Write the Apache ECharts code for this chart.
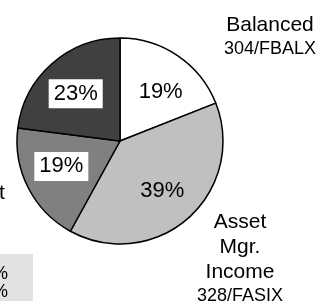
<!DOCTYPE html>
<html>
<head>
<meta charset="utf-8">
<script src="https://cdn.jsdelivr.net/npm/echarts@6/dist/echarts.min.js"></script>
<style>
  html, body { margin: 0; padding: 0; background: #fff; }
  #chart { width: 318px; height: 301px; }
</style>
</head>
<body>
<div id="chart"></div>
<script>
// datos del grafico (sentido horario desde arriba)
const fondos = ["Balanced", "Asset Mgr. Income", "Government Income", "Asset Mgr."];
const codigos = ["304/FBALX", "328/FASIX", "054/FGOVX", "314/FASMX"];
const porcentajes = [19, 39, 19, 23];
const colores = ["#ffffff", "#c0c0c0", "#808080", "#404040"];
// textos de la caja gris recortada a la izquierda
const cajaTextos = ["3.1%", "2.4%"];

const fuente = "Liberation Sans, Arial, sans-serif";

var myChart = echarts.init(document.getElementById("chart"));

// posiciones de las etiquetas de nombre (fuera del pastel)
const posNombres = {
  0: { x: 270, y: 37 },
  1: { x: 240, y: 258.5 },
  2: { x: -53, y: 217 },
};

// pequeños ajustes de los porcentajes dentro del pastel
const ajustes = [[3, 6], [-2, 0], [1, -5], [0, 3]];

const datosPastel = porcentajes.map((v, i) => ({
  value: v,
  name: fondos[i],
  itemStyle: { color: colores[i] },
  label: {
    show: i !== 3,
    formatter: () => {
      const lineas = fondos[i] === "Asset Mgr. Income"
        ? ["Asset", "Mgr.", "Income"]
        : fondos[i] === "Government Income"
          ? ["Government", "Income"]
          : [fondos[i]];
      return lineas.map((l) => "{n|" + l + "}").join("\n") + "\n{c|" + codigos[i] + "}";
    },
  },
}));

const datosEtiquetas = porcentajes.map((v, i) => ({
  value: v,
  name: fondos[i],
  label: {
    backgroundColor: i >= 2 ? "#ffffff" : "transparent",
    padding: i >= 2 ? [4, 5, 3, 5] : 0,
    offset: ajustes[i],
  },
}));

var option = {
  animation: false,
  graphic: [
    {
      type: "rect",
      x: 0,
      y: 254,
      shape: { width: 33, height: 60 },
      style: { fill: "#e2e2e2" },
      silent: true,
    },
    {
      type: "text",
      x: 8,
      y: 265,
      silent: true,
      style: {
        text: cajaTextos.join("\n"),
        font: "18px " + fuente,
        fill: "#000",
        align: "right",
        verticalAlign: "top",
        lineHeight: 18,
      },
    },
  ],
  series: [
    {
      name: "Fondos",
      type: "pie",
      radius: 103,
      center: [120, 141],
      startAngle: 90,
      clockwise: true,
      silent: true,
      avoidLabelOverlap: false,
      itemStyle: { borderColor: "#000", borderWidth: 1.5 },
      label: {
        position: "outside",
        color: "#000",
        fontFamily: fuente,
        align: "center",
        overflow: "none",
        width: 200,
        rich: {
          n: { fontSize: 21, lineHeight: 25, fontFamily: fuente, color: "#000", align: "center" },
          c: { fontSize: 18, lineHeight: 23, fontFamily: fuente, color: "#000", align: "center" },
        },
      },
      labelLine: { show: false },
      labelLayout: (params) => {
        const p = posNombres[params.dataIndex];
        if (!p) return {};
        return { x: p.x, y: p.y, align: "center", verticalAlign: "middle" };
      },
      data: datosPastel,
    },
    {
      // serie invisible solo para colocar los porcentajes
      name: "Porcentajes",
      type: "pie",
      radius: 128,
      center: [120, 141],
      startAngle: 90,
      clockwise: true,
      silent: true,
      itemStyle: { color: "transparent", borderWidth: 0 },
      label: {
        position: "inside",
        formatter: "{c}%",
        fontSize: 22,
        fontFamily: fuente,
        color: "#000",
      },
      labelLine: { show: false },
      data: datosEtiquetas,
    },
  ],
};

myChart.setOption(option);
</script>
</body>
</html>
